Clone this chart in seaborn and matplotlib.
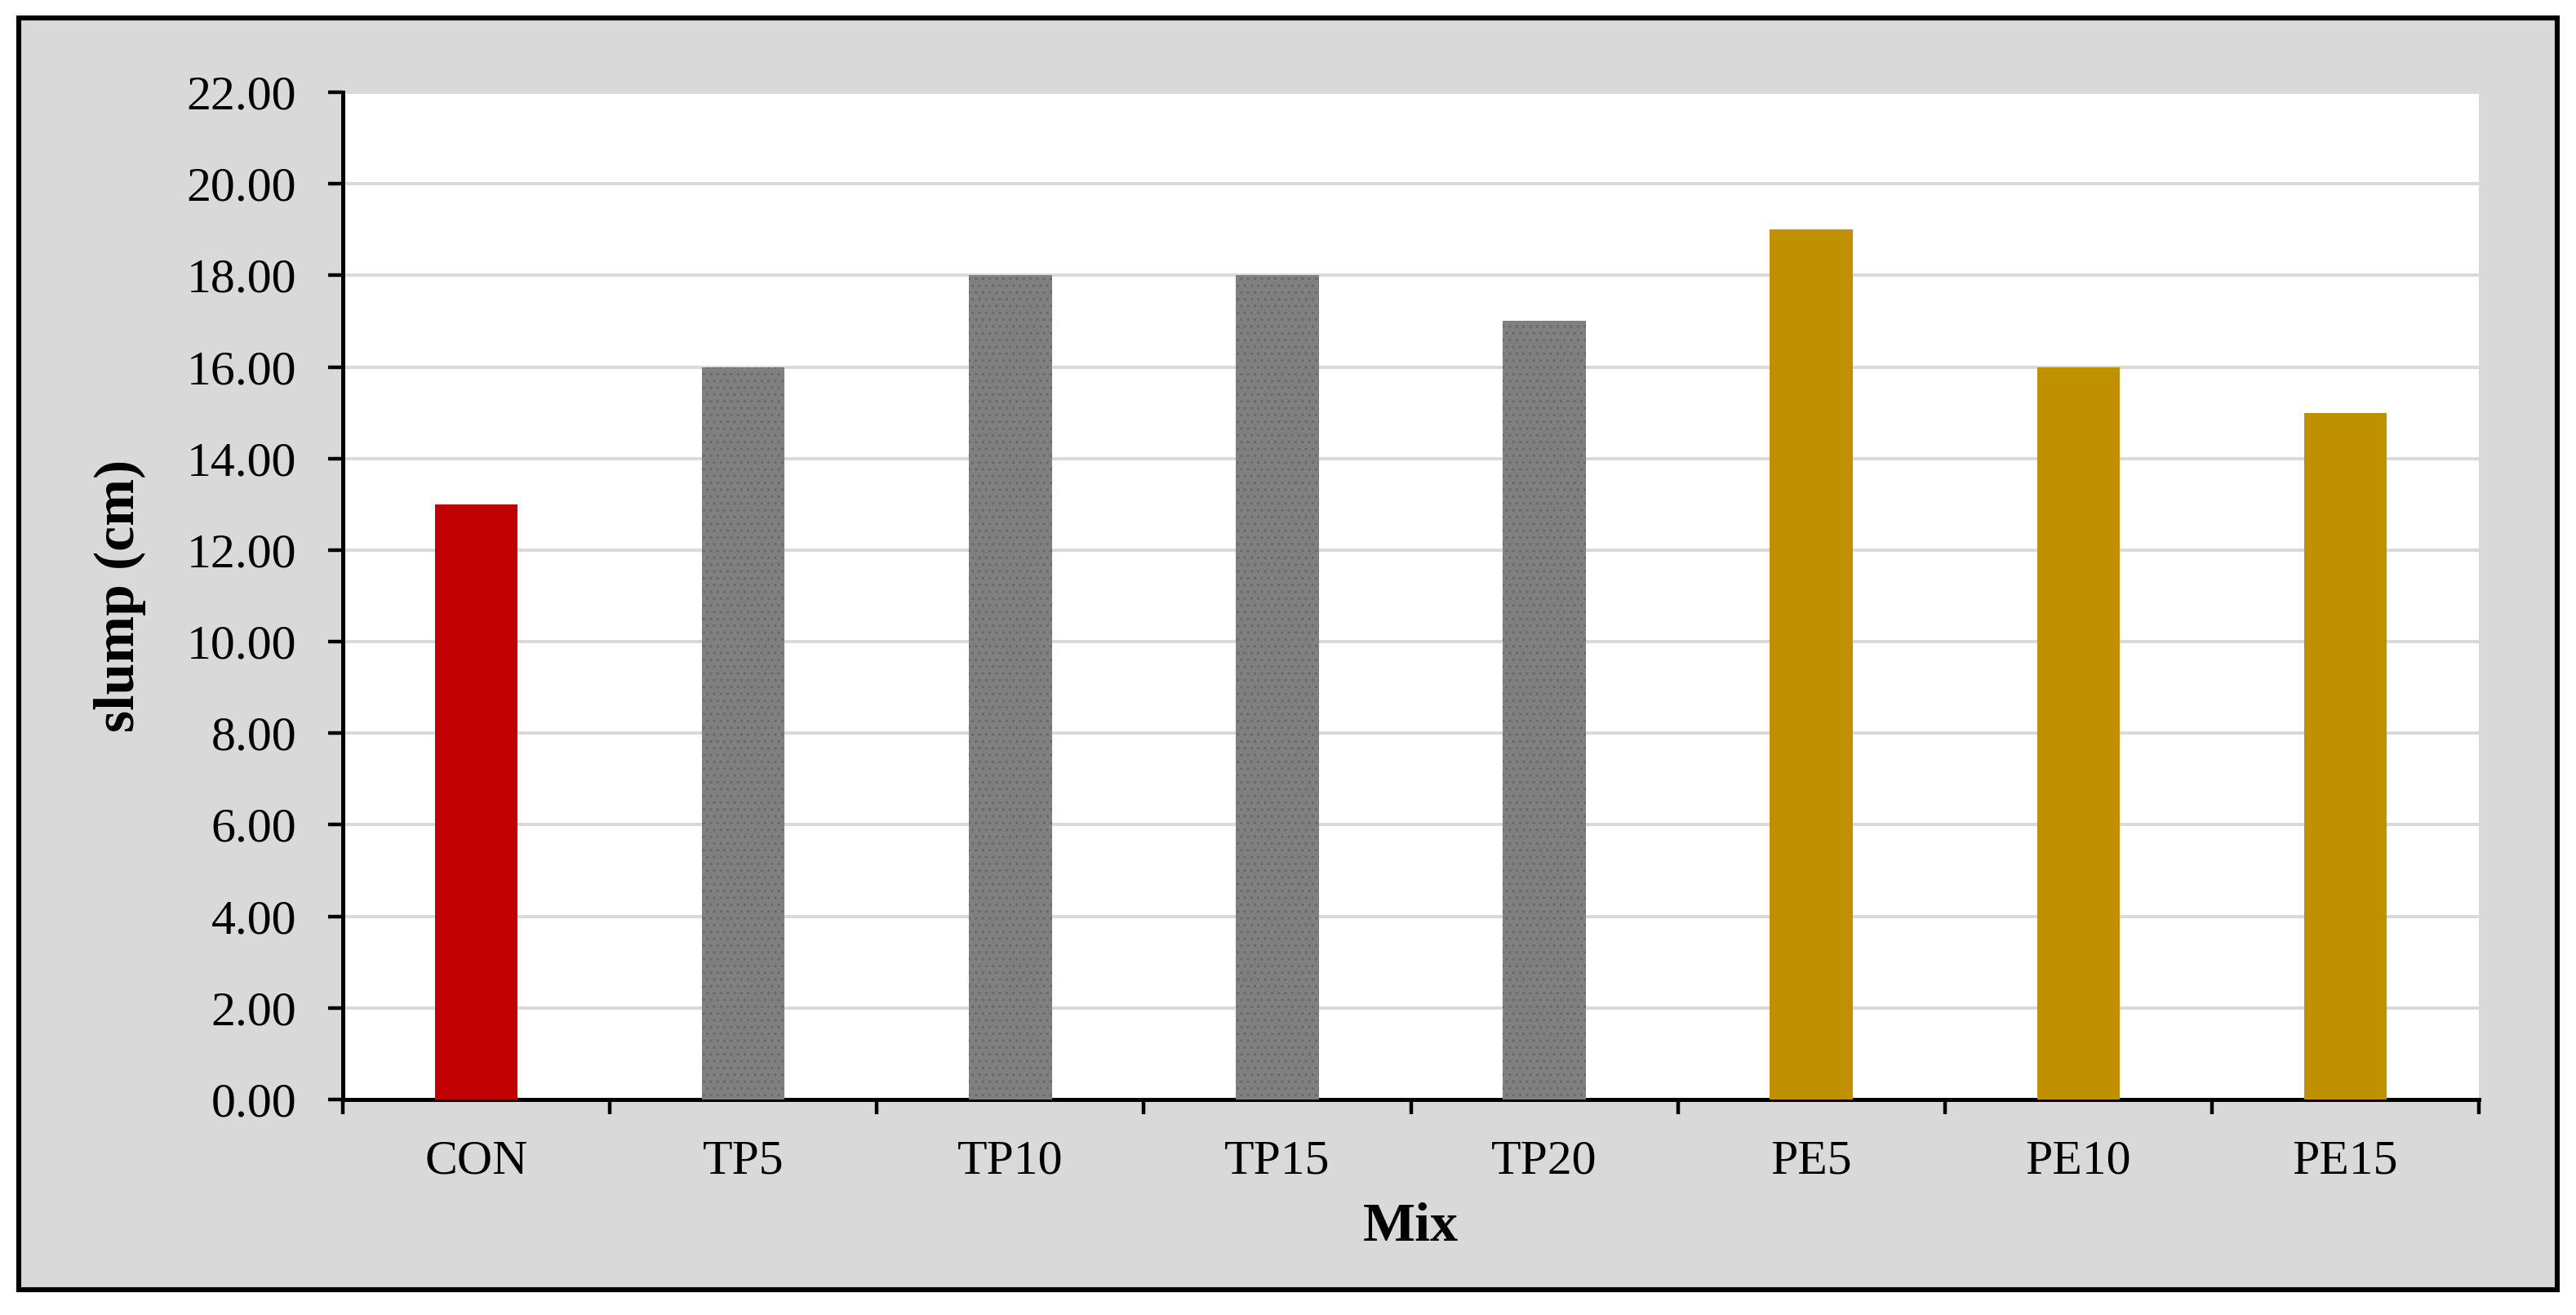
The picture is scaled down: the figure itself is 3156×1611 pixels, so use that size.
import pandas as pd
import matplotlib.pyplot as plt
import seaborn as sns
from matplotlib.patches import Rectangle
from matplotlib.ticker import FixedLocator, FormatStrFormatter

# Slump values
mixes = ["CON", "TP5", "TP10", "TP15", "TP20", "PE5", "PE10", "PE15"]
slump = [13.0, 16.0, 18.0, 18.0, 17.0, 19.0, 16.0, 15.0]
bar_colors = ["#C00000", "#808080", "#808080", "#808080", "#808080",
              "#BF9000", "#BF9000", "#BF9000"]

data = pd.DataFrame({"Mix": mixes, "slump": slump})

sns.set_style("white")
plt.rcParams["font.family"] = ["Liberation Serif", "DejaVu Serif"]
plt.rcParams["text.color"] = "black"
plt.rcParams["axes.labelcolor"] = "black"
plt.rcParams["xtick.color"] = "black"
plt.rcParams["ytick.color"] = "black"
plt.rcParams["hatch.linewidth"] = 0.6

fig = plt.figure(figsize=(15.78, 8.055), dpi=200, facecolor="white")

# Grey chart area with black frame, drawn under the axes
fig.patches.append(Rectangle((23 / 3156, 1 - 1580 / 1611), (3133 - 23) / 3156,
                             (1580 - 22) / 1611, transform=fig.transFigure,
                             facecolor="#D9D9D9", edgecolor="black",
                             linewidth=2.2, zorder=-10))

ax = fig.add_axes([420 / 3156, 1 - 1347 / 1611, (3037 - 420) / 3156,
                   (1347 - 113) / 1611])
ax.set_facecolor("white")

sns.barplot(data=data, x="Mix", y="slump", hue="Mix", palette=bar_colors,
            width=0.31, legend=False, saturation=1, ax=ax, zorder=3)

# Light texture on the TP bars
for patch, c in zip(ax.patches, bar_colors):
    patch.set_linewidth(0)
    if c == "#808080":
        patch.set_edgecolor("#6a6a6a")
        patch.set_hatch("....")
    else:
        patch.set_edgecolor(c)

ax.set_xlim(-0.5, len(mixes) - 0.5)
ax.set_ylim(0, 22)
ax.set_yticks(range(0, 23, 2))
ax.yaxis.set_major_formatter(FormatStrFormatter("%.2f"))
ax.yaxis.grid(True, color="#D9D9D9", linewidth=1.4, zorder=0)
ax.set_axisbelow(True)

# x ticks sit on the category boundaries, labels at centres
ax.xaxis.set_minor_locator(FixedLocator([i - 0.5 for i in range(len(mixes) + 1)]))
ax.tick_params(axis="x", which="major", length=0, pad=18, labelsize=21.5,
               labelcolor="black")
ax.tick_params(axis="x", which="minor", direction="out", length=6.5,
               width=1.6, color="black", bottom=True)
ax.tick_params(axis="y", direction="out", length=6.5, width=1.6,
               color="black", pad=14, labelsize=21.5, left=True,
               labelcolor="black")

for side in ["top", "right"]:
    ax.spines[side].set_visible(False)
for side in ["left", "bottom"]:
    ax.spines[side].set_color("black")
    ax.spines[side].set_linewidth(1.8)

ax.set_xlabel("Mix", fontsize=24.5, fontweight="bold", labelpad=8, color="black")
ax.set_ylabel("slump (cm)", fontsize=25, fontweight="bold", labelpad=18,
              color="black")

fig.savefig("out.png", dpi=200, facecolor="white")
